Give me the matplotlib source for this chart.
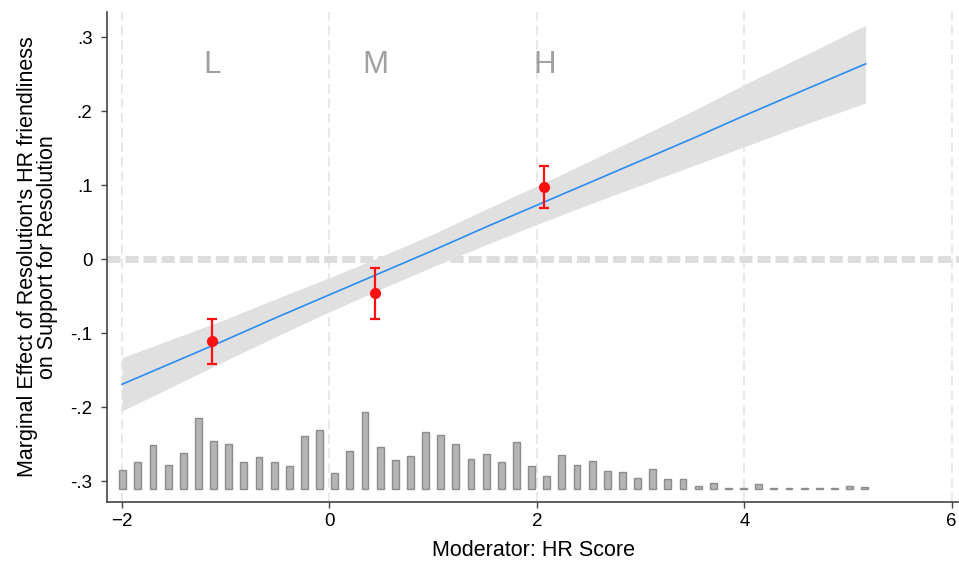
import numpy as np
from matplotlib import pyplot as plt

plt.rcParams['font.family'] = ['Liberation Sans', 'DejaVu Sans']
plt.rcParams['lines.scale_dashes'] = False

# marginal effect line + 95% band
grid_x = [-2.0, -1.5, -1.0, -0.5, 0.0, 0.5, 1.0, 1.5, 2.0, 2.5, 3.0, 3.5, 4.0, 4.5, 5.17]
effect = [-0.169, -0.139, -0.109, -0.078, -0.048, -0.018, 0.012, 0.043,
          0.073, 0.103, 0.133, 0.163, 0.194, 0.224, 0.264]
band_lo = [-0.205, -0.171, -0.137, -0.1035, -0.071, -0.040, -0.010, 0.019,
           0.047, 0.074, 0.100, 0.126, 0.152, 0.178, 0.211]
band_hi = [-0.133, -0.107, -0.081, -0.0525, -0.025, 0.004, 0.034, 0.067,
           0.099, 0.132, 0.166, 0.200, 0.236, 0.270, 0.316]

# binned estimates (L, M, H)
bin_labels = ["L", "M", "H"]
bin_x = [-1.13, 0.44, 2.07]
bin_est = [-0.111, -0.046, 0.097]
bin_lo = [-0.142, -0.081, 0.069]
bin_hi = [-0.081, -0.012, 0.126]

# moderator histogram (bar heights as drawn, in axis units * 740)
hist_start = -1.993
hist_width = 0.146
hist_counts = [19, 27, 44, 24, 36, 71, 48, 45, 27, 32,
               27, 23, 53, 59, 16, 38, 77, 42, 29, 33,
               57, 54, 45, 30, 35, 27, 47, 23, 13, 34,
               24, 28, 18, 17, 11, 20, 10, 10, 3, 6,
               1, 1, 5, 1, 1, 1, 1, 1, 3, 2]
hist_base = -0.31

fig = plt.figure(figsize=(9.59, 5.66), dpi=100)
ax = fig.add_axes([107 / 959, 1 - 502 / 566, 1 - 107 / 959, 490 / 566])

# grid
for gx in [-2, 0, 2, 4, 6]:
    ax.axvline(gx, color="#e8e8e8", lw=1.4, dashes=(7, 3.5), zorder=0)
ax.axhline(0, color="#dddddd", lw=5, dashes=(9.4, 3.6), zorder=1)

# histogram
centers = hist_start + hist_width * np.arange(len(hist_counts))
heights = np.array(hist_counts) / 740
ax.bar(centers, heights, width=0.066, bottom=hist_base,
       color="#b4b4b4", edgecolor="#8c8c8c", linewidth=1, zorder=2)

# band and line
ax.fill_between(grid_x, band_lo, band_hi, color="#e0e0e0", lw=0, zorder=2)
ax.plot(grid_x, effect, color="#2a8cf2", lw=1.2, zorder=3)

# binned estimates
yerr = [np.array(bin_est) - np.array(bin_lo), np.array(bin_hi) - np.array(bin_est)]
ax.errorbar(bin_x, bin_est, yerr=yerr, fmt="o", color="#ff1010",
            ms=7, elinewidth=1.6, capsize=3.5, capthick=1.6, zorder=4)
for lab, x in zip(bin_labels, bin_x):
    ax.text(x, 0.262, lab, color="#a0a0a0", fontsize=22.5,
            ha="center", va="center")

ax.set_xlim(-2.145, 6.07)
ax.set_ylim(-0.328, 0.334)
ax.set_xticks([-2, 0, 2, 4, 6])
ax.set_yticks([-0.3, -0.2, -0.1, 0, 0.1, 0.2, 0.3])
ax.set_yticklabels(["-.3", "-.2", "-.1", "0", ".1", ".2", ".3"])
ax.spines["top"].set_visible(False)
ax.spines["right"].set_visible(False)
for s in ["left", "bottom"]:
    ax.spines[s].set_color("#444444")
    ax.spines[s].set_linewidth(1.2)
ax.tick_params(colors="#444444", labelcolor="black", labelsize=13.5,
               length=4.5, width=1)
ax.tick_params(axis="y", pad=6)

ax.set_xlabel("Moderator: HR Score", fontsize=15.5, labelpad=7)
ax.set_ylabel("Marginal Effect of Resolution's HR friendliness\non Support for Resolution",
              fontsize=15.5, labelpad=9, linespacing=0.95)

fig.savefig("out.png", dpi=100)
